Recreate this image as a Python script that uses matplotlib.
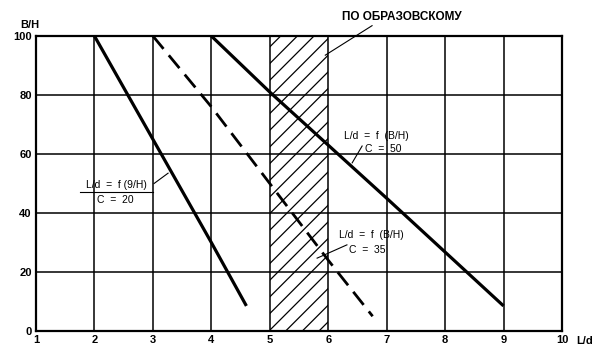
import matplotlib
matplotlib.use('Agg')
import matplotlib.pyplot as plt

plt.rcParams['font.family'] = ['Liberation Sans', 'DejaVu Sans']
plt.rcParams['hatch.linewidth'] = 0.9

# curves L/d = f(B/H) for different C
x_c20 = [2.0, 3.0, 4.0, 4.6]
y_c20 = [100, 65, 30, 8.5]

x_c35 = [3.0, 4.0, 5.0, 6.0, 6.76]
y_c35 = [100, 76, 50, 24, 5]

x_c50 = [4.0, 5.0, 7.0, 9.0]
y_c50 = [100, 81, 45, 8.5]

zone = [5, 6]   # "по Образовскому"

xticks = [1, 2, 3, 4, 5, 6, 7, 8, 9, 10]
yticks = [0, 20, 40, 60, 80, 100]

fig = plt.figure(figsize=(6.04, 3.56), dpi=100)
ax = fig.add_axes([36/604, 1-331/356, (562-36)/604, (331-36)/356])

ax.set_xlim(1, 10)
ax.set_ylim(0, 100)
ax.set_xticks(xticks)
ax.set_yticks(yticks)
ax.tick_params(length=0, labelsize=8, pad=3)
for lab in ax.get_xticklabels() + ax.get_yticklabels():
    lab.set_fontweight('bold')
ax.grid(True, color='black', linewidth=1.1)
for s in ax.spines.values():
    s.set_linewidth(1.6)

ax.axvspan(zone[0], zone[1], facecolor='none', edgecolor='black', hatch='//', linewidth=0)

ax.plot(x_c20, y_c20, color='black', lw=2.3, solid_capstyle='butt')
ax.plot(x_c35, y_c35, color='black', lw=2.0, dashes=(6, 3))
ax.plot(x_c50, y_c50, color='black', lw=2.3, solid_capstyle='butt')

fig.text(30/604, 1-25/356, 'B/H', fontsize=8, fontweight='bold', ha='center', va='center')
fig.text(585/604, 1-341/356, 'L/d', fontsize=8, fontweight='bold', ha='center', va='center')

# labels
ax.text(7.26, 106.4, 'ПО ОБРАЗОВСКОМУ', fontsize=8.5, fontweight='bold',
        ha='center', va='center', clip_on=False)
ax.plot([6.75, 5.95], [103.5, 93.5], color='black', lw=0.8, clip_on=False)

ax.text(6.82, 66.1, 'L/d  =  f  (B/H)', fontsize=7.5, ha='center', va='center')
ax.text(6.94, 61.8, 'C  =  50', fontsize=7.5, ha='center', va='center')
ax.plot([6.41, 6.58], [57, 62.7], color='black', lw=0.8)

ax.text(6.73, 32.5, 'L/d  =  f  (B/H)', fontsize=7.5, ha='center', va='center')
ax.text(6.66, 27.5, 'C  =  35', fontsize=7.5, ha='center', va='center')
ax.plot([5.81, 6.32], [24.7, 29.2], color='black', lw=0.8)

ax.text(2.37, 49.5, 'L/d  =  f (9/H)', fontsize=7.5, ha='center', va='center')
ax.text(2.35, 44.5, 'C  =  20', fontsize=7.5, ha='center', va='center')
ax.plot([1.75, 3.0], [47.1, 47.1], color='black', lw=0.8)
ax.plot([3.02, 3.26], [50, 53.5], color='black', lw=0.8)

fig.savefig('out.png', dpi=100)
